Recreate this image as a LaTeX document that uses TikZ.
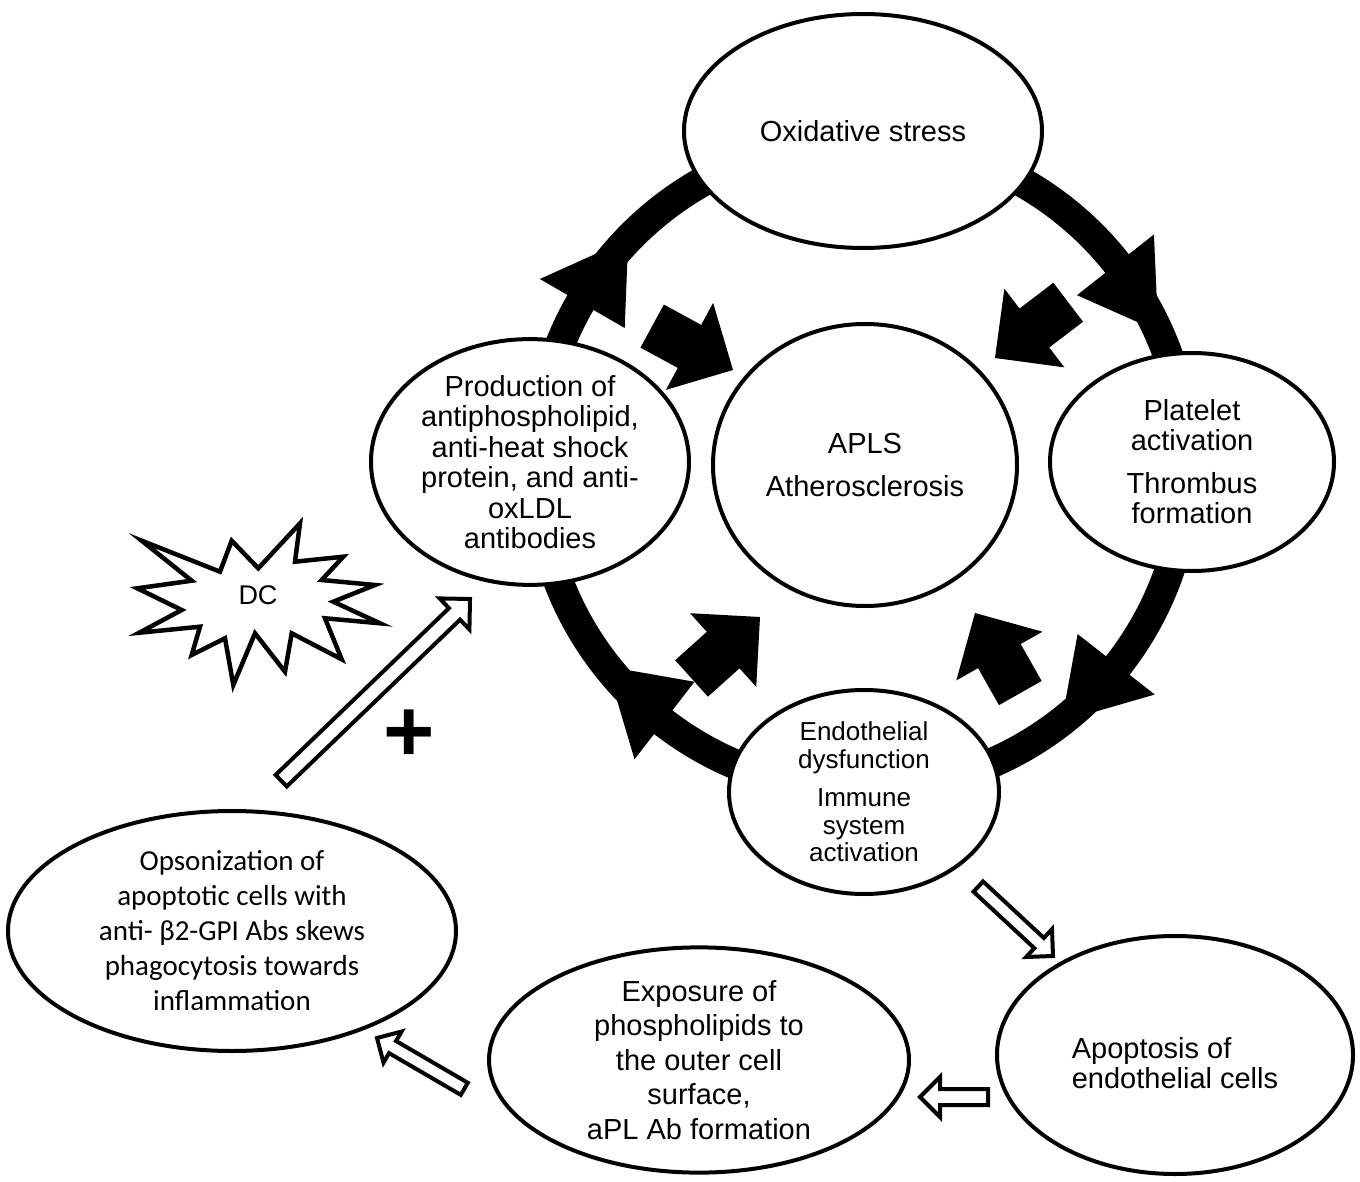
\documentclass[tikz,border=0pt]{standalone}
\usepackage{fontspec}
\setmainfont{Liberation Sans}
\newfontfamily\calfont{Carlito}
\usetikzlibrary{shapes.geometric}

\tikzset{
  bubble/.style={ellipse, draw, line width=4pt, fill=white, inner sep=0pt,
    align=center, font=\fontsize{29}{30.5}\selectfont},
  hollow/.style={draw, fill=white, line width=4pt},
  solid block/.style={fill=black},
  % flat arrow with its tip at the origin, pointing along +x:
  % #1 total length, #2 head width, #3 shaft width (90 degree tip)
  pics/flatarrow/.style n args={3}{code={
    \path[pic actions] (0,0) -- (-#2/2,#2/2) -- (-#2/2,#3/2) -- (-#1,#3/2)
      -- (-#1,-#3/2) -- (-#2/2,-#3/2) -- (-#2/2,-#2/2) -- cycle;
  }},
}

\begin{document}
\begin{tikzpicture}[x=1pt, y=-1pt]
\useasboundingbox (0,0) rectangle (1360,1182);

% circulation ring with its four barbs
\coordinate (ringc) at (862,465);
\draw[line width=30pt] (ringc) circle[radius=325pt];
\begin{scope}[shift={(ringc)}]
  \fill (150:372pt) -- (136:325pt) -- (150:274pt) -- cycle;
  \fill (38.3:372pt) -- (24.3:325pt) -- (38.3:274pt) -- cycle;
  \fill (-38.1:372pt) -- (-52.1:325pt) -- (-38.1:274pt) -- cycle;
  \fill (-127.7:372pt) -- (-141.7:325pt) -- (-127.7:274pt) -- cycle;
\end{scope}

% main nodes
\node[bubble, minimum width=358, minimum height=234] (ox) at (863,131) {Oxidative stress};
\node[bubble, minimum width=304, minimum height=282] (apls) at (865,465)
  {APLS\\[12pt]Atherosclerosis};
\node[bubble, minimum width=318, minimum height=228] (prod) at (530,462)
  {Production of\\antiphospholipid,\\anti-heat shock\\protein, and anti-\\oxLDL\\antibodies};
\node[bubble, minimum width=284, minimum height=218, font=\fontsize{29}{30}\selectfont] (plt) at (1192,462)
  {Platelet\\activation\\[13pt]Thrombus\\formation};
\node[bubble, minimum width=270, minimum height=204, font=\fontsize{26}{27.5}\selectfont] (endo) at (864,792)
  {Endothelial\\dysfunction\\[11pt]Immune\\system\\activation};
\node[bubble, minimum width=356, minimum height=238, align=left, font=\fontsize{29}{30}\selectfont] (apop) at (1175,1055)
  {\rule{0pt}{38pt}Apoptosis of\\endothelial cells};
\node[bubble, minimum width=420, minimum height=214, font=\fontsize{29}{34.5}\selectfont] (expo) at (699,1060)
  {Exposure of\\phospholipids to\\the outer cell\\surface,\\aPL Ab formation};
\node[bubble, minimum width=448, minimum height=240, font=\calfont\fontsize{29}{35}\selectfont] (opso) at (232,931)
  {Opsonization of\\apoptotic cells with\\anti- β2-GPI Abs skews\\phagocytosis towards\\inflammation};

% solid arrows pointing at the centre
\coordinate (ba1) at (733,370);
\coordinate (ba2) at (995,358);
\coordinate (ba3) at (760,617);
\coordinate (ba4) at (975,613);
\pic[solid block, rotate=-28.5] at (ba1) {flatarrow={92}{99}{49}};
\pic[solid block, rotate=217.3] at (ba2) {flatarrow={92}{99}{49}};
\pic[solid block, rotate=41.9] at (ba3) {flatarrow={92}{99}{49}};
\pic[solid block, rotate=119.5] at (ba4) {flatarrow={92}{99}{49}};

% outlined arrows of the outer cycle
\coordinate (ha) at (470,599);
\coordinate (hb) at (1053,956);
\coordinate (hc) at (920,1097);
\coordinate (hd) at (377,1038);
\pic[hollow, rotate=43.9] at (ha) {flatarrow={262}{43}{16}};
\pic[hollow, rotate=-42.9] at (hb) {flatarrow={102}{38}{14}};
\pic[hollow, rotate=180] at (hc) {flatarrow={68}{40}{16}};
\pic[hollow, rotate=149.8] at (hd) {flatarrow={101}{36}{14}};

% dendritic cell burst
\draw[line width=4.5pt, fill=white]
  (141.7,540.7) -- (220,571.7) -- (231.7,540.7) -- (258.3,568.3) -- (300,523.3)
  -- (295,561.7) -- (343.3,556.7) -- (321.7,580) -- (375,585) -- (333.3,601.7)
  -- (380,623.3) -- (325,618.3) -- (341.7,659.3) -- (291.7,633.3) -- (285,671.7)
  -- (255,633.3) -- (233.3,685) -- (225,638.3) -- (191.7,655) -- (200,626.7)
  -- (139.3,632.7) -- (181.7,610) -- (137.3,588.3) -- (191.7,580.7) -- cycle;
\node[font=\fontsize{27}{27}\selectfont] (dc) at (258,595) {DC};

% plus sign
\node[font=\fontsize{88}{88}\selectfont\bfseries, inner sep=0pt] (plus) at (409.5,736) {+};
\end{tikzpicture}
\end{document}
